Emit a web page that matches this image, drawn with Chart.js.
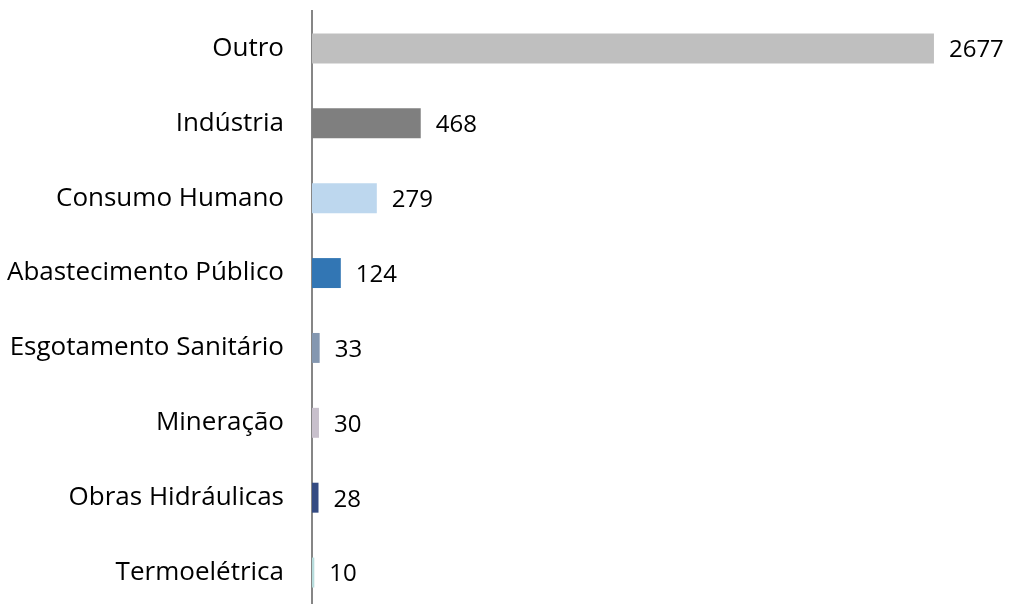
<!DOCTYPE html>
<html>
<head>
<meta charset="utf-8">
<script src="https://cdn.jsdelivr.net/npm/chart.js@4"></script>
<style>
  html, body { margin: 0; padding: 0; background: #fff; overflow: hidden; }
  /* a área do gráfico passa um pouco da borda de baixo, como no original */
  #wrap { width: 1010px; height: 610px; }
</style>
</head>
<body>
<div id="wrap"><canvas id="chartUsos"></canvas></div>
<script>
// categorias e valores
const categorias = ["Outro", "Indústria", "Consumo Humano", "Abastecimento Público",
    "Esgotamento Sanitário", "Mineração", "Obras Hidráulicas", "Termoelétrica"];
const valores = [2677, 468, 279, 124, 33, 30, 28, 10];
const cores = ["#bfbfbf", "#7f7f7f", "#bdd7ee", "#3276b4", "#8497b0", "#c8c0cc", "#344b82", "#b7dcdc"];

const fonte = "'Open Sans', sans-serif";

// rótulos de valor ao lado das barras
const rotulos = {
    id: "rotulos",
    afterDatasetsDraw(chart) {
        const ctx = chart.ctx;
        const meta = chart.getDatasetMeta(0);
        ctx.save();
        ctx.font = "24px " + fonte;
        ctx.fillStyle = "#000";
        ctx.textAlign = "left";
        ctx.textBaseline = "middle";
        meta.data.forEach((bar, i) => {
            ctx.fillText(String(valores[i]), bar.x + 15, bar.y + 2);
        });
        ctx.restore();
    }
};

new Chart(document.getElementById("chartUsos"), {
    type: "bar",
    data: {
        labels: categorias,
        datasets: [{
            data: valores,
            backgroundColor: cores,
            barPercentage: 0.5,
            categoryPercentage: 0.8
        }]
    },
    options: {
        indexAxis: "y",
        responsive: true,
        maintainAspectRatio: false,
        animation: false,
        layout: { padding: { top: 11, right: 1, bottom: 0, left: 0 } },
        plugins: { legend: { display: false }, tooltip: { enabled: false } },
        scales: {
            x: {
                display: false,
                min: 0,
                max: 3000
            },
            y: {
                grid: { display: false, drawTicks: false },
                border: { display: true, color: "#868686", width: 2 },
                ticks: {
                    color: "#000",
                    padding: 28,
                    font: { family: fonte, size: 26 }
                },
                afterFit: s => {
                    s.width = 312;      // eixo em x = 312
                    s.paddingTop = 0;
                    s.paddingBottom = 0;
                }
            }
        }
    },
    plugins: [rotulos]
});
</script>
</body>
</html>
